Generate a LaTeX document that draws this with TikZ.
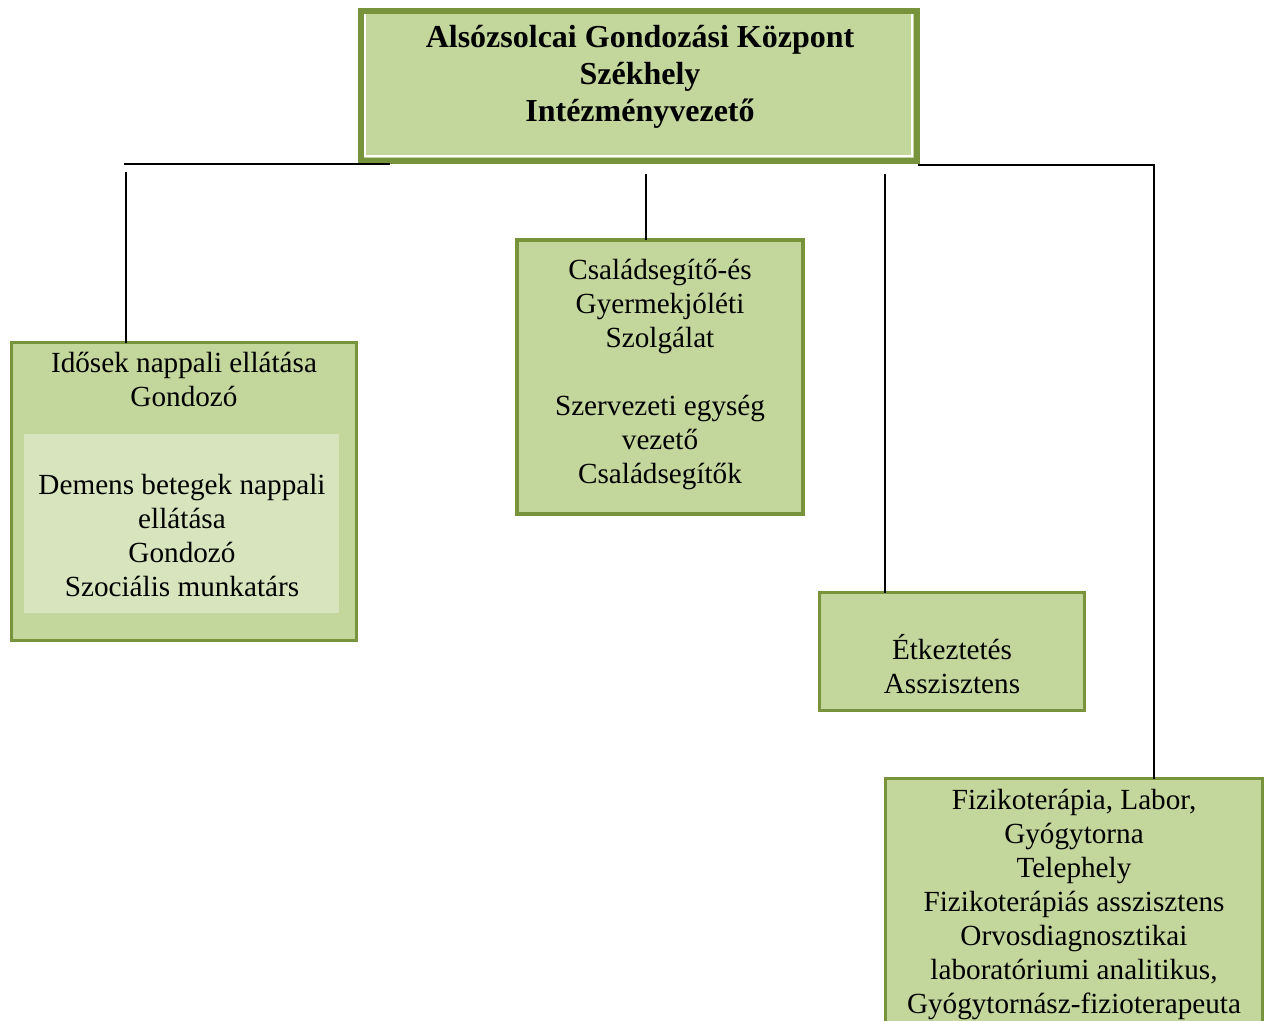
\documentclass[tikz,border=0pt]{standalone}
\usepackage{fontspec}
\setmainfont{Liberation Serif}
\usetikzlibrary{positioning}
\definecolor{olivedark}{HTML}{77933C}
\definecolor{olivefill}{HTML}{C3D69B}
\definecolor{olivelight}{HTML}{D7E4BD}
\tikzset{
    doboz/.style={
           rectangle,
           draw=olivedark, line width=1.5pt,
           fill=olivefill,
           inner sep=0pt, outer sep=0pt,
           anchor=north west},
    szoveg/.style={
           align=center,
           inner sep=0pt,
           font=\fontsize{14.6}{17}\selectfont},
    vonal/.style={
           line width=1pt}
}

\begin{document}
\begin{tikzpicture}[x=0.5pt, y=-0.5pt]
        \useasboundingbox (0,0) rectangle (1267,1021);
        % dobozok
        \node[doboz, line width=3pt, minimum width=278pt, minimum height=74.75pt] (fo) at (360.5,11.5) {};
        \draw[white, line width=0.9pt] ([xshift=2.4pt,yshift=-1.5pt]fo.north west) -- ([xshift=2.4pt,yshift=2.4pt]fo.south west)
              -- ([xshift=-2.4pt,yshift=2.4pt]fo.south east) -- ([xshift=-2.4pt,yshift=-1.5pt]fo.north east);
        \node[doboz, minimum width=172.5pt, minimum height=149pt] (ido) at (11.5,342.5) {};
        \node[doboz, draw=none, fill=olivelight, minimum width=157.5pt, minimum height=89.5pt] (dem) at (24,434) {};
        \node[doboz, line width=2pt, minimum width=143pt, minimum height=137pt] (csal) at (517,240) {};
        \node[doboz, minimum width=132.5pt, minimum height=59pt] (etk) at (819.5,592.5) {};
        \node[doboz, minimum width=188.5pt, minimum height=141pt] (fiz) at (885.5,778.5) {};
        % szovegek
        \node[szoveg, font={\fontsize{16}{18.5}\selectfont\bfseries}] (fotxt) at (640,77)
             {Alsózsolcai Gondozási Központ\\Székhely\\Intézményvezető};
        \node[szoveg] (idotxt) at (184,379) {Idősek nappali ellátása\\Gondozó};
        \node[szoveg] (demtxt) at (182,536) {Demens betegek nappali\\ellátása\\Gondozó\\Szociális munkatárs};
        \node[szoveg] (csaltxt) at (660,374) {Családsegítő-és\\Gyermekjóléti\\Szolgálat\\[17pt]Szervezeti egység\\vezető\\Családsegítők};
        \node[szoveg] (etktxt) at (952,664) {Étkeztetés\\Asszisztens};
        \node[szoveg] (fiztxt) at (1074,904) {Fizikoterápia, Labor,\\Gyógytorna\\Telephely\\Fizikoterápiás asszisztens\\Orvosdiagnosztikai\\laboratóriumi analitikus,\\Gyógytornász-fizioterapeuta};
        % vonalak
        \coordinate (bal) at (124,164);
        \coordinate (bal2) at (390,164);
        \coordinate (jobb) at (918,165);
        \coordinate (sarok) at (1154,165);
        \coordinate (ag1) at (126,172);
        \coordinate (ag2) at (646,174);
        \coordinate (ag3) at (885,174);
        \draw[vonal] (bal) -- (bal2);
        \draw[vonal] (jobb) -- (sarok) -- (sarok |- fiz.north);
        \draw[vonal] (ag1) -- (ag1 |- ido.north);
        \draw[vonal] (ag2) -- (ag2 |- csal.north);
        \draw[vonal] (ag3) -- (ag3 |- etk.north);
\end{tikzpicture}
\end{document}
